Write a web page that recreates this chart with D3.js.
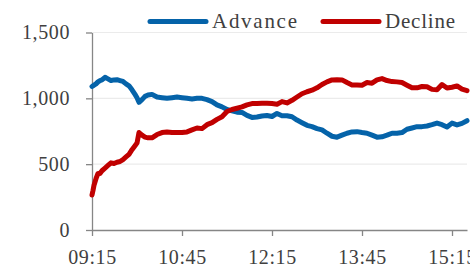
<!DOCTYPE html>
<html>
<head>
<meta charset="utf-8">
<script src="https://cdn.jsdelivr.net/npm/d3@7"></script>
<style>
  body { margin: 0; background: #fff; }
  svg { display: block; font-family: "Liberation Serif", "DejaVu Serif", serif; }
  .tick text { fill: #404040; font-size: 20px; }
</style>
</head>
<body>
<div id="chart"></div>
<script>
// sample times (irregular early on, then every 5 minutes)
const times = ["09:15","09:16","09:17","09:19","09:21","09:23","09:25","09:28","09:31","09:34","09:37","09:40",
  "09:43","09:46","09:49","09:52","09:55","09:58","10:00","10:02","10:05","10:08","10:11","10:15",
  "10:20","10:25","10:30","10:35","10:40","10:45","10:50","10:55","11:00","11:05",
  "11:10","11:15","11:20","11:25","11:30","11:35","11:40","11:45","11:50","11:55",
  "12:00","12:05","12:10","12:15","12:20","12:25","12:30","12:35","12:40","12:45",
  "12:50","12:55","13:00","13:05","13:10","13:15","13:20","13:25","13:30","13:35",
  "13:40","13:45","13:50","13:55","14:00","14:05","14:10","14:15","14:20","14:25",
  "14:30","14:35","14:40","14:45","14:50","14:55","15:00","15:05","15:10","15:15",
  "15:20","15:25","15:30"];

const advance = [1090,1095,1100,1110,1125,1135,1140,1160,1148,1135,1140,1142,
  1135,1128,1110,1095,1065,1030,1005,970,990,1015,1025,1030,
  1010,1005,1000,1005,1010,1005,1000,995,1000,1000,
  990,975,950,935,915,905,895,893,870,855,
  858,866,870,862,885,868,868,860,835,815,
  795,785,770,760,735,712,705,720,735,745,
  747,740,735,720,705,708,720,735,735,740,
  765,775,785,785,790,800,812,800,782,812,
  798,810,830];

const decline = [266,300,340,390,430,430,450,470,490,510,505,515,
  520,535,555,575,610,640,660,740,720,705,700,700,
  725,740,745,740,740,740,745,760,775,770,
  800,815,840,860,900,915,925,935,950,960,
  960,962,962,960,955,975,965,985,1010,1035,
  1050,1062,1080,1105,1125,1140,1142,1140,1120,1102,
  1102,1100,1120,1115,1140,1150,1135,1127,1125,1120,
  1100,1080,1080,1090,1088,1068,1065,1105,1078,1084,
  1094,1070,1058];

const xTicks = ["09:15","10:45","12:15","13:45","15:15"];
const yTicks = [0, 500, 1000, 1500];

const width = 470, height = 266;
const margin = { top: 32.5, right: 3, bottom: 36, left: 92 };

const parse = d3.timeParse("%H:%M");

const svg = d3.select("#chart")
  .append("svg")
  .attr("width", width)
  .attr("height", height);

const x = d3.scaleTime()
  .domain([parse("09:15"), parse("15:30")])
  .range([margin.left, width - margin.right]);

const y = d3.scaleLinear()
  .domain([0, 1500])
  .range([height - margin.bottom, margin.top]);

// gridlines
svg.append("g")
  .selectAll("line")
  .data(yTicks.filter(d => d > 0))
  .enter().append("line")
  .attr("x1", margin.left)
  .attr("x2", width - margin.right)
  .attr("y1", d => y(d))
  .attr("y2", d => y(d))
  .attr("stroke", "#ebebeb")
  .attr("stroke-width", 1.2);

// axes
const xAxis = d3.axisBottom(x)
  .tickValues(xTicks.map(parse))
  .tickFormat(d3.timeFormat("%H:%M"))
  .tickSizeInner(6)
  .tickSizeOuter(0)
  .tickPadding(14);

const yAxis = d3.axisLeft(y)
  .tickValues(yTicks)
  .tickFormat(d3.format(","))
  .tickSizeInner(6)
  .tickSizeOuter(0)
  .tickPadding(16);

const gx = svg.append("g")
  .attr("transform", `translate(0,${y(0)})`)
  .call(xAxis);

const gy = svg.append("g")
  .attr("transform", `translate(${margin.left},0)`)
  .call(yAxis);

[gx, gy].forEach(g => {
  g.attr("font-family", null).attr("font-size", null);
  g.select(".domain").attr("stroke", "#868686").attr("stroke-width", 1.3);
  g.selectAll(".tick line").attr("stroke", "#868686").attr("stroke-width", 1.3);
  g.selectAll(".tick text").style("letter-spacing", "0.6px");
});

// lines
const series = [
  { name: "Advance", values: advance, color: "#0563a9" },
  { name: "Decline", values: decline, color: "#c00000" }
];

const line = d3.line()
  .x((d, i) => x(parse(times[i])))
  .y(d => y(d));

svg.selectAll(".series")
  .data(series)
  .enter().append("path")
  .attr("class", "series")
  .attr("d", d => line(d.values))
  .attr("fill", "none")
  .attr("stroke", d => d.color)
  .attr("stroke-width", 5)
  .attr("stroke-linejoin", "round")
  .attr("stroke-linecap", "round");

// legend
const legendPos = [150, 323];
const legend = svg.selectAll(".legend")
  .data(series)
  .enter().append("g")
  .attr("class", "legend")
  .attr("transform", (d, i) => `translate(${legendPos[i]},21.5)`);

legend.append("line")
  .attr("x1", 0)
  .attr("x2", 56)
  .attr("stroke", d => d.color)
  .attr("stroke-width", 5)
  .attr("stroke-linecap", "round");

legend.append("text")
  .attr("x", 62)
  .attr("y", 6.5)
  .attr("fill", "#404040")
  .attr("font-size", 21)
  .attr("textLength", (d, i) => i === 0 ? 85 : 70)
  .attr("lengthAdjust", "spacing")
  .text(d => d.name);
</script>
</body>
</html>
